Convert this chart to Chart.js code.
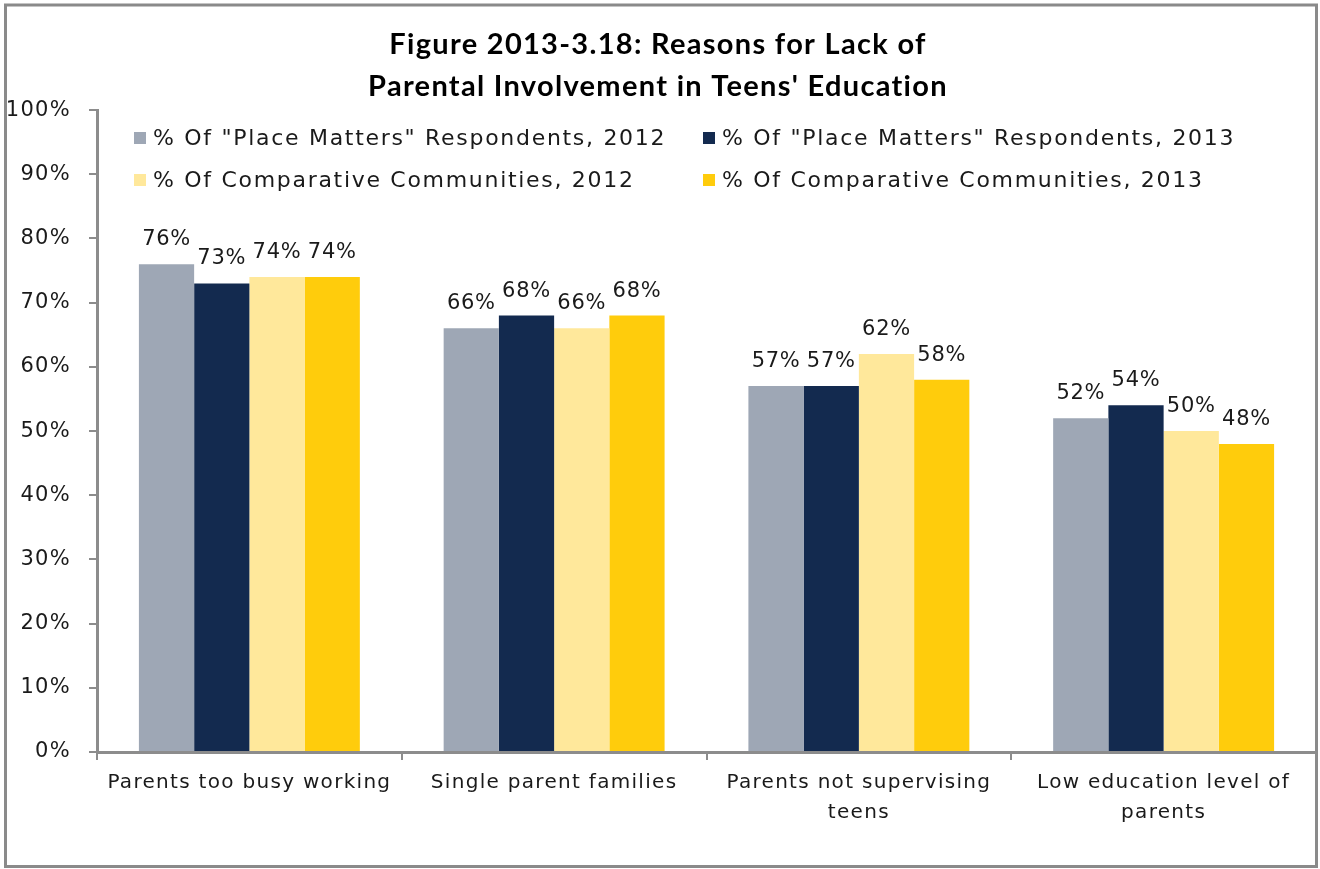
<!DOCTYPE html>
<html lang="en">
<head>
    <meta charset="UTF-8">
    <title>Reasons for Lack of Parental Involvement</title>
    <script src="https://cdn.jsdelivr.net/npm/chart.js"></script>
    <style>
        body { margin: 0; background: #fff; }
        #wrap { width: 1320px; height: 869px; }
    </style>
</head>
<body>
<div id="wrap"><canvas id="graph_bars" width="1320" height="869"></canvas></div>
<script>
    const categories = [
        'Parents too busy working',
        'Single parent families',
        ['Parents not supervising', 'teens'],
        ['Low education level of', 'parents'],
    ];
    const series_names = [
        '% Of "Place Matters" Respondents, 2012',
        '% Of "Place Matters" Respondents, 2013',
        '% Of Comparative Communities, 2012',
        '% Of Comparative Communities, 2013',
    ];
    const pm_2012 = [76, 66, 57, 52];
    const pm_2013 = [73, 68, 57, 54];
    const comp_2012 = [74, 66, 62, 50];
    const comp_2013 = [74, 68, 58, 48];
    const y_ticks = [0, 10, 20, 30, 40, 50, 60, 70, 80, 90, 100];

    const colors = ['#9ea7b5', '#132a4f', '#ffe89b', '#ffcc0c'];
    const axis_grey = '#8c8c8c';
    const font_main = '"DejaVu Sans", sans-serif';

    // outer frame + wider letter spacing for all the text the chart draws
    const framePlugin = {
        id: 'frame',
        beforeDraw(chart) {
            const ctx = chart.ctx;
            ctx.save();
            ctx.fillStyle = '#fff';
            ctx.fillRect(0, 0, chart.width, chart.height);
            ctx.strokeStyle = '#8a8a8a';
            ctx.lineWidth = 3;
            ctx.strokeRect(5.5, 5, 1311, 861.5);
            ctx.restore();
            ctx.letterSpacing = '1.3px';
        }
    };

    // percent labels above each bar
    const valueLabels = {
        id: 'valueLabels',
        afterDatasetsDraw(chart) {
            const ctx = chart.ctx;
            ctx.save();
            ctx.letterSpacing = '0.7px';
            ctx.font = '21px ' + font_main;
            ctx.fillStyle = '#1a1a1a';
            ctx.textAlign = 'center';
            ctx.textBaseline = 'alphabetic';
            chart.data.datasets.forEach((ds, i) => {
                chart.getDatasetMeta(i).data.forEach((bar, j) => {
                    ctx.fillText(ds.data[j] + '%', bar.x, bar.y - 19);
                });
            });
            ctx.restore();
        }
    };

    // two-column legend sitting inside the plot area
    const innerLegend = {
        id: 'innerLegend',
        afterDraw(chart) {
            const ctx = chart.ctx;
            const cols = [134, 703];
            const rows = [138, 180];
            ctx.save();
            ctx.letterSpacing = '1.7px';
            ctx.font = '22px ' + font_main;
            ctx.textBaseline = 'middle';
            chart.data.datasets.forEach((ds, i) => {
                const x = cols[i % 2];
                const y = rows[Math.floor(i / 2)];
                ctx.fillStyle = ds.backgroundColor;
                ctx.fillRect(x, y - 6, 12, 12);
                ctx.fillStyle = '#1a1a1a';
                ctx.fillText(ds.label, x + 19, y + 1);
            });
            ctx.restore();
        }
    };

    new Chart(document.getElementById('graph_bars'), {
        type: 'bar',
        data: {
            labels: categories,
            datasets: [
                { label: series_names[0], data: pm_2012, backgroundColor: colors[0] },
                { label: series_names[1], data: pm_2013, backgroundColor: colors[1] },
                { label: series_names[2], data: comp_2012, backgroundColor: colors[2] },
                { label: series_names[3], data: comp_2013, backgroundColor: colors[3] },
            ],
        },
        options: {
            responsive: false,
            animation: false,
            devicePixelRatio: 1,
            datasets: {
                bar: {
                    categoryPercentage: 0.725,
                    barPercentage: 1.0,
                },
            },
            layout: {
                padding: { left: 0, right: 4, top: 0, bottom: 0 },
            },
            plugins: {
                legend: { display: false },
                tooltip: { enabled: false },
                title: {
                    display: true,
                    text: ['Figure 2013-3.18: Reasons for Lack of', "Parental Involvement in Teens' Education"],
                    color: '#000',
                    font: { family: 'Lato, sans-serif', size: 29, weight: 'bold', lineHeight: 1.45 },
                    padding: { top: 24, bottom: 2 },
                },
            },
            scales: {
                x: {
                    grid: {
                        display: true,
                        drawOnChartArea: false,
                        drawTicks: true,
                        tickLength: 8,
                        color: axis_grey,
                        lineWidth: 2,
                        offset: true,
                    },
                    border: { color: axis_grey, width: 3 },
                    ticks: {
                        color: '#1a1a1a',
                        font: { family: font_main, size: 20, lineHeight: 1.5 },
                        padding: 8,
                        maxRotation: 0,
                        autoSkip: false,
                    },
                    afterFit(scale) { scale.height = 117; },
                },
                y: {
                    min: 0,
                    max: 100,
                    afterBuildTicks(scale) {
                        scale.ticks = y_ticks.map(v => ({ value: v }));
                    },
                    grid: {
                        display: true,
                        drawOnChartArea: false,
                        drawTicks: true,
                        tickLength: 8,
                        color: axis_grey,
                        lineWidth: 2,
                    },
                    border: { color: axis_grey, width: 3 },
                    ticks: {
                        color: '#1a1a1a',
                        font: { family: font_main, size: 21 },
                        padding: 18,
                        callback: v => v + '%',
                    },
                    afterFit(scale) { scale.width = 97; },
                },
            },
        },
        plugins: [framePlugin, valueLabels, innerLegend],
    });
</script>
</body>
</html>
